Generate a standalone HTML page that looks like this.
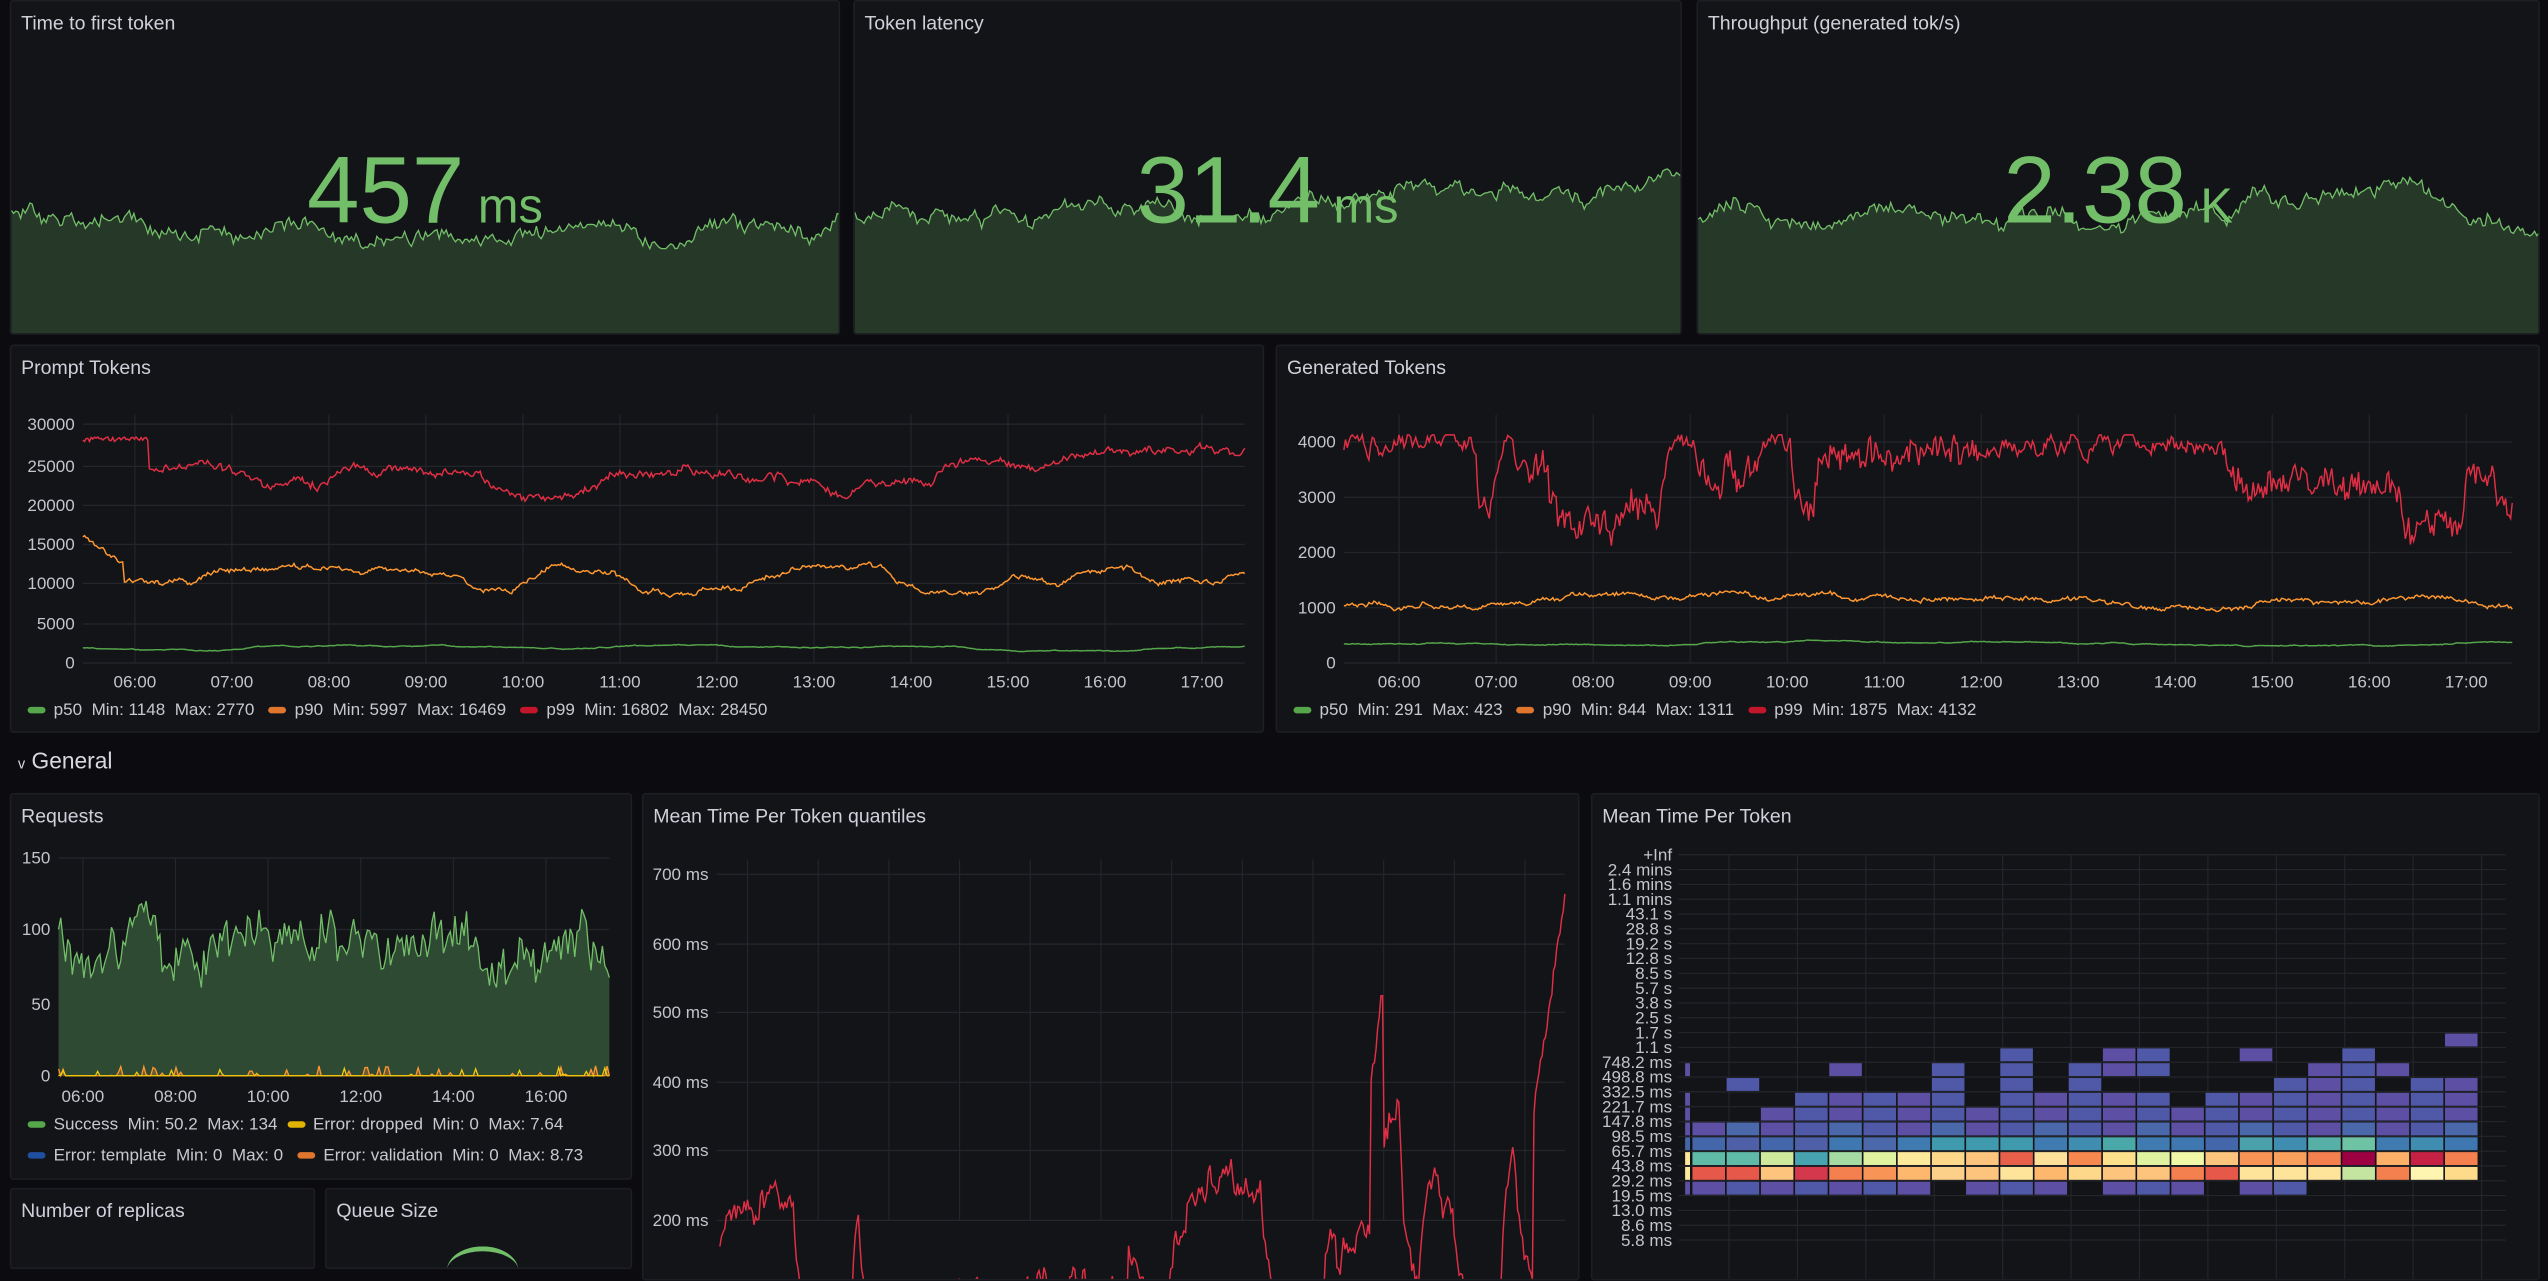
<!DOCTYPE html>
<html><head><meta charset="utf-8">
<style>
html,body{margin:0;padding:0;background:#0c0c10;overflow:hidden;width:2548px;height:1249px}
#w{position:absolute;left:0;top:0;width:1568px;height:769px;transform:scale(1.625);transform-origin:0 0;font-family:"Liberation Sans",sans-serif;color:#ccccdc}
.p{position:absolute;background:#121418;border:1px solid #1c1e23;border-radius:2px;box-sizing:border-box;overflow:hidden}
.t{position:absolute;left:6px;top:6px;font-size:12px;font-weight:500;color:#d0d0da}
svg{position:absolute;left:0;top:0;overflow:visible}
.tk{font-size:10.5px;fill:#c4c4cc;font-family:"Liberation Sans",sans-serif}
.lg{position:absolute;font-size:10.5px;color:#c8c8d0;white-space:nowrap}
.sw{display:inline-block;width:11px;height:4px;border-radius:2px;margin:0 5px 1px 0;vertical-align:middle}
.big{position:absolute;left:0;right:0;top:82px;text-align:center;color:#73bf69;font-size:58px;line-height:70px}
.big span{font-size:30px}
</style></head><body><div id="w">
<div class="p" style="left:6px;top:0;width:511px;height:206px"><div class="t">Time to first token</div><svg id="s1" width="511" height="206"></svg><div class="big">457<span> ms</span></div></div>
<div class="p" style="left:525px;top:0;width:510px;height:206px"><div class="t">Token latency</div><svg id="s2" width="510" height="206"></svg><div class="big">31.4<span> ms</span></div></div>
<div class="p" style="left:1044px;top:0;width:519px;height:206px"><div class="t">Throughput (generated tok/s)</div><svg id="s3" width="519" height="206"></svg><div class="big">2.38<span> K</span></div></div>

<div class="p" style="left:6px;top:212px;width:772px;height:239px"><div class="t">Prompt Tokens</div><svg id="pt" width="772" height="239"></svg>
<div class="lg" style="left:10px;top:218px"><span class="sw" style="background:#56a64b"></span>p50&nbsp; Min: 1148&nbsp; Max: 2770&nbsp;&nbsp; <span class="sw" style="background:#e0752d"></span>p90&nbsp; Min: 5997&nbsp; Max: 16469&nbsp;&nbsp; <span class="sw" style="background:#c4162a"></span>p99&nbsp; Min: 16802&nbsp; Max: 28450</div></div>
<div class="p" style="left:785px;top:212px;width:778px;height:239px"><div class="t">Generated Tokens</div><svg id="gt" width="778" height="239"></svg>
<div class="lg" style="left:10px;top:218px"><span class="sw" style="background:#56a64b"></span>p50&nbsp; Min: 291&nbsp; Max: 423&nbsp;&nbsp; <span class="sw" style="background:#e0752d"></span>p90&nbsp; Min: 844&nbsp; Max: 1311&nbsp;&nbsp; <span class="sw" style="background:#c4162a"></span>p99&nbsp; Min: 1875&nbsp; Max: 4132</div></div>

<div style="position:absolute;left:11px;top:460px;font-size:14px;color:#d8d8e0"><span style="font-size:9px">v</span> General</div>

<div class="p" style="left:6px;top:488px;width:383px;height:238px"><div class="t">Requests</div><svg id="rq" width="383" height="238"></svg>
<div class="lg" style="left:10px;top:197px"><span class="sw" style="background:#56a64b"></span>Success&nbsp; Min: 50.2&nbsp; Max: 134&nbsp; <span class="sw" style="background:#e0b400"></span>Error: dropped&nbsp; Min: 0&nbsp; Max: 7.64</div>
<div class="lg" style="left:10px;top:216px"><span class="sw" style="background:#1f4fa0"></span>Error: template&nbsp; Min: 0&nbsp; Max: 0&nbsp;&nbsp; <span class="sw" style="background:#e0752d"></span>Error: validation&nbsp; Min: 0&nbsp; Max: 8.73</div></div>
<div class="p" style="left:6px;top:731px;width:188px;height:50px"><div class="t">Number of replicas</div></div>
<div class="p" style="left:200px;top:731px;width:189px;height:50px"><div class="t">Queue Size</div><div style="position:absolute;left:74px;top:35px;width:44px;height:30px;border-radius:50%;border-top:3px solid #73bf69;box-sizing:border-box"></div></div>

<div class="p" style="left:395px;top:488px;width:577px;height:300px"><div class="t">Mean Time Per Token quantiles</div><svg id="q" width="577" height="300"></svg></div>
<div class="p" style="left:979px;top:488px;width:584px;height:300px"><div class="t">Mean Time Per Token</div><svg id="hm" width="584" height="300"></svg></div>
</div>
<script>
var seed=11;function R(){seed=(seed*16807)%2147483647;return seed/2147483647;}
function add(s,tag,a,txt){var e=document.createElementNS('http://www.w3.org/2000/svg',tag);for(var k in a)e.setAttribute(k,a[k]);if(txt!=null)e.textContent=txt;document.getElementById(s).appendChild(e);return e;}
function walk(n,mean,vol,rev,shift,shiftAmt,lo,hi,noise){var v=[],x=mean,m=mean;for(var i=0;i<n;i++){if(R()<shift)m=mean+(R()-0.5)*2*shiftAmt;x+=(m-x)*rev+(R()-0.5)*vol;var y=x+(R()-0.5)*(noise||0);if(y<lo)y=lo;if(y>hi)y=hi;if(x<lo)x=lo;if(x>hi)x=hi;v.push(y);}return v;}
function pts(v,x0,x1,f){var s='';for(var i=0;i<v.length;i++){s+=(x0+(x1-x0)*i/(v.length-1)).toFixed(1)+','+f(v[i]).toFixed(1)+' ';}return s;}
function spark(id,w,base){var v=walk(360,0,6,0.06,0.015,16,-25,20,5);var p=pts(v,0,w,function(y){return base+y;});
add(id,'polygon',{points:'0,206 '+p+w+',206',fill:'#263827'});add(id,'polyline',{points:p,fill:'none',stroke:'#73bf69','stroke-width':0.8});}
spark('s1',511,132);spark('s2',510,128);spark('s3',519,132);
function grid(id,x0,x1,yt,ylab,xt,xlab,xy,top){for(var i=0;i<yt.length;i++){add(id,'line',{x1:x0,x2:x1,y1:yt[i],y2:yt[i],stroke:'#24262b','stroke-width':0.7});add(id,'text',{x:x0-5,y:yt[i]+3.5,'text-anchor':'end','class':'tk'},ylab[i]);}
for(var j=0;j<xt.length;j++){add(id,'line',{x1:xt[j],x2:xt[j],y1:top,y2:yt[yt.length-1],stroke:'#24262b','stroke-width':0.7});if(xlab)add(id,'text',{x:xt[j],y:xy,'text-anchor':'middle','class':'tk'},xlab[j]);}}
var hrs=['06:00','07:00','08:00','09:00','10:00','11:00','12:00','13:00','14:00','15:00','16:00','17:00'];
function xs(a,st,n){var r=[];for(var i=0;i<n;i++)r.push(a+st*i);return r;}
grid('pt',44,759,[48,74,98,122,146,171,195],['30000','25000','20000','15000','10000','5000','0'],xs(76,59.7,12),hrs,210,42);
(function(){var f=function(v){return 195-v/30000*147;};
var p99=walk(700,24000,700,0.08,0.03,3500,17000,28300,500);for(var i=0;i<40;i++)p99[i]=27800+R()*600;
var p90=walk(700,10000,450,0.08,0.03,2500,6000,16000,300);for(var i=0;i<25;i++)p90[i]=15800-i*150+R()*500;
var p50=walk(700,1900,80,0.05,0.02,500,1150,2770,40);
add('pt','polyline',{points:pts(p50,44,759,f),fill:'none',stroke:'#56a64b','stroke-width':0.9});
add('pt','polyline',{points:pts(p90,44,759,f),fill:'none',stroke:'#ff9830','stroke-width':0.9});
add('pt','polyline',{points:pts(p99,44,759,f),fill:'none',stroke:'#e02f44','stroke-width':0.9});})();
grid('gt',41,760,[59,93,127,161,195],['4000','3000','2000','1000','0'],xs(75,59.7,12),hrs,210,42);
(function(){var f=function(v){return 195-v/4000*136;};
var v=[],x=4000,t=4000;for(var i=0;i<700;i++){if(R()<0.035)t=R()<0.5?4000:2300+R()*1500;x+=(t-x)*0.3+(R()-0.5)*300;var y=x+(R()-0.5)*(t>3900?60:400);v.push(Math.min(4130,Math.max(1880,y)));}
var p90=walk(700,1050,60,0.06,0.02,150,850,1300,40);var p50=walk(700,350,12,0.05,0.01,50,290,420,8);
add('gt','polyline',{points:pts(p50,41,760,f),fill:'none',stroke:'#56a64b','stroke-width':0.9});
add('gt','polyline',{points:pts(p90,41,760,f),fill:'none',stroke:'#ff9830','stroke-width':0.9});
add('gt','polyline',{points:pts(v,41,760,f),fill:'none',stroke:'#e02f44','stroke-width':0.9});})();
grid('rq',29,368,[39,83,129,173],['150','100','50','0'],xs(44,57,6),['06:00','08:00','10:00','12:00','14:00','16:00'],189,39);
(function(){var f=function(v){return 173-v/150*134;};var s=walk(240,95,18,0.12,0.04,20,50,134,22);
var p=pts(s,29,368,f);add('rq','polygon',{points:'29,173 '+p+'368,173',fill:'#2f4a33'});add('rq','polyline',{points:p,fill:'none',stroke:'#73bf69','stroke-width':0.8});
var e=[];for(var i=0;i<240;i++)e.push(R()<0.18?R()*7:0);var pe=pts(e,29,368,f);add('rq','polygon',{points:'29,173 '+pe+'368,173',fill:'rgba(224,117,45,0.35)'});add('rq','polyline',{points:pe,fill:'none',stroke:'#ff9830','stroke-width':0.8});
var d=[];for(var i=0;i<240;i++)d.push(R()<0.06?R()*7:0);add('rq','polyline',{points:pts(d,29,368,f),fill:'none',stroke:'#f2cc0c','stroke-width':0.8});})();
grid('q',45,567,[49,92,134,177,219,262],['700 ms','600 ms','500 ms','400 ms','300 ms','200 ms'],xs(64,43.5,12),null,0,40);
(function(){var f=function(v){return 262-(v-200)*0.426;};var v=[],x=150,t=150;for(var i=0;i<520;i++){if(R()<0.06)t=R()<0.45?60+R()*60:180+R()*180;x+=(t-x)*0.25+(R()-0.5)*30;v.push(x+(R()-0.5)*25);}
for(var i=0;i<8;i++)v[400+i]=380+i*20+R()*30;for(var i=0;i<20;i++)v[500+i]=350+i*16+R()*20;
add('q','polyline',{points:pts(v,47,567,f),fill:'none',stroke:'#e02f44','stroke-width':0.9});})();
(function(){var labs=['+Inf','2.4 mins','1.6 mins','1.1 mins','43.1 s','28.8 s','19.2 s','12.8 s','8.5 s','5.7 s','3.8 s','2.5 s','1.7 s','1.1 s','748.2 ms','498.8 ms','332.5 ms','221.7 ms','147.8 ms','98.5 ms','65.7 ms','43.8 ms','29.2 ms','19.5 ms','13.0 ms','8.6 ms','5.8 ms'];
var y0=37,st=9.12,x0=53,x1=562;
for(var i=0;i<labs.length;i++){var y=y0+st*i;add('hm','line',{x1:x0,x2:x1,y1:y,y2:y,stroke:'#24262b','stroke-width':0.7});add('hm','text',{x:49,y:y+3.5,'text-anchor':'end','class':'tk'},labs[i]);}
for(var j=0;j<12;j++){var x=1063-979+42.1*j;add('hm','line',{x1:x,x2:x,y1:y0,y2:300,stroke:'#24262b','stroke-width':0.7});}
var P='#5d4fa3',B='#5058a8';
var rows={12:[22],13:[9,12,13,16,19],14:[4,7,9,11,12,13,18,19,20],15:[1,7,9,11,17,18,19,21,22],16:[3,4,5,6,7,9,10,11,12,13,15,16,17,18,19,20,21,22],22:[0,1,2,3,4,5,6,8,9,10,12,13,14,16,17]};
var r17=[];for(var c=2;c<23;c++)r17.push(c);rows[17]=r17;var all=[];for(var c=0;c<23;c++)all.push(c);rows[18]=all;
var r19=['#4466aa','#5060a8','#4466aa','#5060a8','#3f77b0','#4a68aa','#3f7ab0','#3f9aad','#3f9aad','#3f9aad','#3f7ab0','#3f8db0','#4aa8a8','#3f7ab0','#3f77b0','#4466aa','#4aa0ab','#3f8db0','#56b0a8','#6ec3a5','#3f7ab0','#3f8db0','#3f77b0'];
var r20=['#5fbaa8','#5fbaa8','#cfe99c','#48a3b0','#a5dba3','#e0f2a0','#fde99a','#fdd88a','#fdc47e','#e8604a','#fde19a','#f7884f','#fde08c','#def2a0','#f1f8a8','#fdc47e','#f79456','#f9a05c','#f5804f','#9e0142','#fdb068','#c42145','#f5804f'];
var r21=['#e5584a','#e5584a','#fdc47e','#d4384c','#f5804f','#f79456','#fdb86e','#fdd08a','#fdc47e','#fee49a','#fdb86e','#fdd88a','#fdc47e','#fdc47e','#f5804f','#e5584a','#fee49a','#fee49a','#fee49a','#c3e5a0','#f5804f','#fef6b0','#fedb8a'];
var cw=21.05,cx0=1040-979;
function cell(r,c,col){add('hm','rect',{x:cx0+c*cw+0.5,y:y0+st*r+0.6,width:cw-1,height:st-1.2,fill:col});}
for(var r in rows){rows[r].forEach(function(c){cell(+r,c,(+r==18&&c%3==1)?'#4a68aa':(c%2?B:P));});}
for(var c=0;c<23;c++){cell(19,c,r19[c]);cell(20,c,r20[c]);cell(21,c,r21[c]);}
var sl={14:P,16:P,17:P,18:P,19:'#4466aa',20:'#fde99a',21:'#fde99a',22:P};
for(var r in sl)add('hm','rect',{x:1036-979,y:y0+st*r+0.6,width:3,height:st-1.2,fill:sl[r]});})();
</script>
</body></html>
